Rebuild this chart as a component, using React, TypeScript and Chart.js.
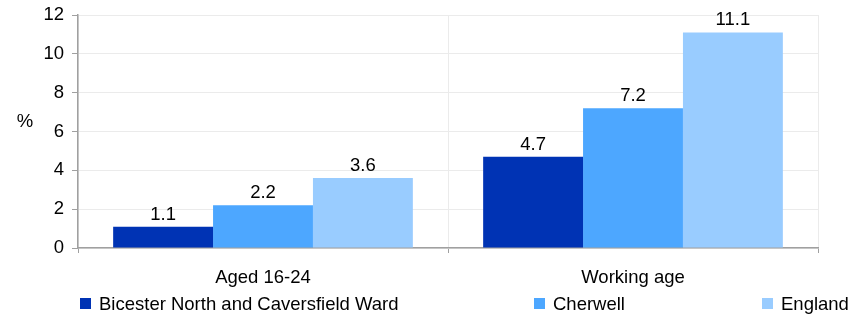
import React, { useEffect, useRef } from "react";
import { Chart, registerables } from "chart.js";
Chart.register(...registerables);

const categories = ["Aged 16-24", "Working age"];
const seriesNames = ["Bicester North and Caversfield Ward", "Cherwell", "England"];
const bicester = [1.1, 4.7];
const cherwell = [2.2, 7.2];
const england = [3.6, 11.1];
const colors = ["#0033B4", "#4DA7FF", "#99CCFF"];
const yTicks = [0, 2, 4, 6, 8, 10, 12];
const yTitle = "%";

const FONT = "'Liberation Sans', Arial, sans-serif";
const FS = 18.5;

const labelsPlugin = {
  id: "custom",
  afterDatasetsDraw(chart: any) {
    const ctx = chart.ctx;
    ctx.save();
    ctx.font = `${FS}px ${FONT}`;
    ctx.fillStyle = "#000";
    ctx.textAlign = "center";
    ctx.textBaseline = "alphabetic";
    chart.data.datasets.forEach((ds: any, i: number) => {
      const meta = chart.getDatasetMeta(i);
      meta.data.forEach((bar: any, j: number) => {
        ctx.fillText(String(ds.data[j].toFixed(1)), bar.x, bar.y - 7);
      });
    });
    // y title
    ctx.textAlign = "center";
    ctx.textBaseline = "middle";
    ctx.fillText(yTitle, 25, chart.scales.y.getPixelForValue(6.5));
    // legend
    const xs = [80, 534, 762];
    const ly = 304;
    ctx.textAlign = "left";
    seriesNames.forEach((n, i) => {
      ctx.fillStyle = colors[i];
      ctx.fillRect(xs[i], ly - 6, 11, 11);
      ctx.fillStyle = "#000";
      ctx.fillText(n, xs[i] + 19, ly + 1);
    });
    ctx.restore();
  },
};

export default function App() {
  const ref = useRef<HTMLCanvasElement>(null);
  useEffect(() => {
    const chart = new Chart(ref.current!, {
      type: "bar",
      data: {
        labels: categories,
        datasets: [bicester, cherwell, england].map((d, i) => ({
          label: seriesNames[i],
          data: d,
          backgroundColor: colors[i],
          borderWidth: 0,
          categoryPercentage: 0.81,
          barPercentage: 1,
        })),
      },
      options: {
        animation: false,
        responsive: false,
        layout: { padding: { left: 0, right: 39, top: 15, bottom: 29 } },
        plugins: { legend: { display: false }, tooltip: { enabled: false } },
        scales: {
          x: {
            grid: { color: "#EBEBEB", lineWidth: 1, tickColor: "#A0A0A0", tickLength: 5, offset: true },
            border: { color: "#A0A0A0", width: 1.5 },
            ticks: { color: "#000", font: { family: FONT, size: FS }, padding: 14 },
            afterFit(s: any) { s.height = 40; s.paddingLeft = 0; s.paddingRight = 0; },
          },
          y: {
            min: 0,
            max: 12,
            afterBuildTicks(s: any) { s.ticks = yTicks.map((v) => ({ value: v })); },
            grid: { color: "#EBEBEB", lineWidth: 1, tickColor: "#A0A0A0", tickLength: 6 },
            border: { color: "#A0A0A0", width: 1.5 },
            ticks: { color: "#000", font: { family: FONT, size: FS }, padding: 8 },
            afterFit(s: any) { s.width = 78; s.paddingTop = 0; s.paddingBottom = 0; },
          },
        },
      },
      plugins: [labelsPlugin],
    });
    return () => chart.destroy();
  }, []);
  return (
    <div style={{ position: "fixed", left: 0, top: 0, width: 857, height: 317, background: "#fff" }}>
      <canvas ref={ref} width={857} height={317} style={{ width: 857, height: 317 }} />
    </div>
  );
}
